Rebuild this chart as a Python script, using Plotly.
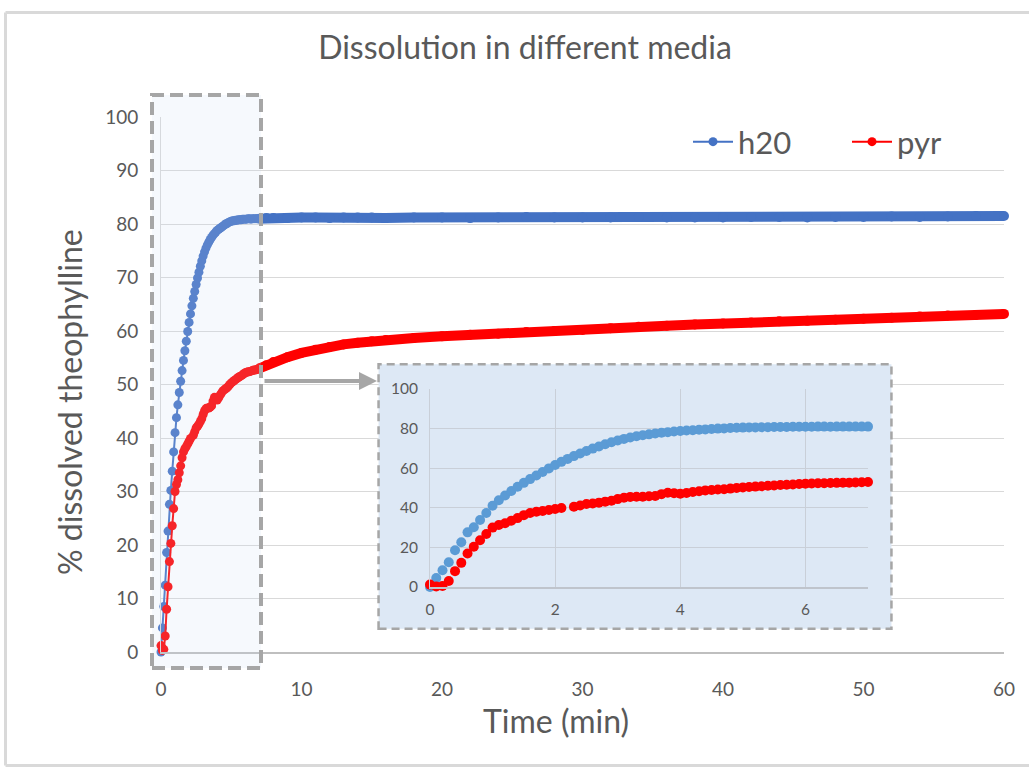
import plotly.graph_objects as go

# ---------------- data ----------------
TIME_EARLY = [0.0, 0.1, 0.2, 0.3, 0.4, 0.5, 0.6, 0.7, 0.8, 0.9,
              1.0, 1.1, 1.2, 1.3, 1.4, 1.5, 1.6, 1.7, 1.8, 1.9,
              2.0, 2.1, 2.2, 2.3, 2.4, 2.5, 2.6, 2.7, 2.8, 2.9,
              3.0, 3.1, 3.2, 3.3, 3.4, 3.5, 3.6, 3.7, 3.8, 3.9,
              4.0, 4.1, 4.2, 4.3, 4.4, 4.5, 4.6, 4.7, 4.8, 4.9,
              5.0, 5.1, 5.2, 5.3, 5.4, 5.5, 5.6, 5.7, 5.8, 5.9,
              6.0, 6.1, 6.2, 6.3, 6.4, 6.5, 6.6, 6.7, 6.8, 6.9, 7.0]

H2O_EARLY = [0.0, 4.5, 8.5, 12.5, 18.6, 22.6, 27.6, 30.2, 33.8, 37.4,
             41.0, 43.8, 46.2, 48.5, 50.6, 52.6, 54.5, 56.3, 58.1, 59.9,
             61.6, 63.2, 64.7, 66.1, 67.4, 68.7, 69.9, 71.0, 72.1, 73.1,
             74.0, 74.8, 75.5, 76.1, 76.6, 77.1, 77.5, 77.9, 78.2, 78.5,
             78.8, 79.0, 79.2, 79.4, 79.6, 79.8, 80.0, 80.1, 80.3, 80.4,
             80.5, 80.6, 80.6, 80.7, 80.7, 80.8, 80.8, 80.8, 80.9, 80.9,
             80.9, 80.9, 81.0, 81.0, 80.9, 81.0, 81.0, 81.0, 81.0, 81.0, 81.0]

PYR_EARLY = [1.2, 0.3, 0.5, 3.0, 8.0, 12.2, 16.9, 20.3, 23.6, 26.8,
             30.0, 31.3, 32.2, 33.5, 34.8, 36.3, 37.4, 38.0, 38.4, 38.9,
             39.4, 39.9, None, 40.5, 41.2, 41.9, 42.2, 42.6, 43.1, 43.6,
             44.4, 45.1, 45.5, 45.6, 45.6, 45.8, 46.0, 46.9, 47.6, 47.4,
             47.1, 47.5, 48.0, 48.4, 48.8, 49.0, 49.2, 49.4, 49.7, 50.0,
             50.3, 50.5, 50.7, 50.9, 51.1, 51.3, 51.5, 51.6, 51.8, 52.0,
             52.2, 52.3, 52.4, 52.4, 52.5, 52.6, 52.7, 52.7, 52.8, 52.9, 53.0]

TIME_LATE = [7.0, 7.5, 8, 9, 10, 11, 12, 13, 14, 15, 16,
             18, 20, 22, 24, 26, 28, 30, 32, 34, 36, 38,
             40, 42, 44, 46, 48, 50, 52, 54, 56, 58, 60]

H2O_LATE = [81.0, 81.1, 81.1, 81.1, 81.2, 81.2, 81.1, 81.2, 81.2, 81.2, 81.1,
            81.2, 81.2, 81.1, 81.2, 81.3, 81.2, 81.2, 81.2, 81.3, 81.2, 81.2,
            81.2, 81.3, 81.3, 81.2, 81.3, 81.3, 81.4, 81.3, 81.4, 81.5, 81.5]

PYR_LATE = [53.0, 53.6, 54.2, 55.1, 55.9, 56.5, 57.0, 57.5, 57.8, 58.1, 58.3,
            58.7, 59.0, 59.3, 59.5, 59.8, 60.0, 60.2, 60.5, 60.8, 61.0, 61.2,
            61.4, 61.6, 61.8, 61.9, 62.1, 62.3, 62.5, 62.7, 62.9, 63.0, 63.2]

SERIES_NAMES = ["h20", "pyr"]
MAIN_X_TICKS = [0, 10, 20, 30, 40, 50, 60]
MAIN_Y_TICKS = [0, 10, 20, 30, 40, 50, 60, 70, 80, 90, 100]
INSET_X_TICKS = [0, 2, 4, 6]
INSET_Y_TICKS = [0, 20, 40, 60, 80, 100]

# ---------------- style ----------------
W, H = 1029, 767
ML, MR, MT, MB = 161, 25, 117, 115
PW, PH = W - ML - MR, H - MT - MB
FONT = "Lato"
TXT = "#595959"
BLUE = "#4472c4"
BLUE_IN = "#5b9bd5"
RED = "#ff0000"
GRID = "#d9d9d9"


def px_x(px):
    return (px - ML) / PW


def px_y(py):
    return (H - MB - py) / PH


fig = go.Figure()

# main chart: early part (thin line + markers)
fig.add_trace(go.Scatter(x=TIME_EARLY, y=H2O_EARLY, name=SERIES_NAMES[0],
                         mode="lines+markers", connectgaps=True,
                         line=dict(color=BLUE, width=2),
                         marker=dict(color=BLUE, size=9),
                         cliponaxis=False, xaxis="x", yaxis="y"))
fig.add_trace(go.Scatter(x=TIME_EARLY, y=PYR_EARLY, name=SERIES_NAMES[1],
                         mode="lines+markers", connectgaps=True,
                         line=dict(color=RED, width=2),
                         marker=dict(color=RED, size=9),
                         cliponaxis=False, xaxis="x", yaxis="y"))
# main chart: dense tail (overlapping markers form a band)
fig.add_trace(go.Scatter(x=TIME_LATE, y=H2O_LATE, showlegend=False,
                         mode="lines+markers",
                         line=dict(color=BLUE, width=10),
                         marker=dict(color=BLUE, size=10),
                         cliponaxis=False, xaxis="x", yaxis="y"))
fig.add_trace(go.Scatter(x=TIME_LATE, y=PYR_LATE, showlegend=False,
                         mode="lines+markers",
                         line=dict(color=RED, width=10),
                         marker=dict(color=RED, size=10),
                         cliponaxis=False, xaxis="x", yaxis="y"))

# inset background holder subplot
fig.add_trace(go.Scatter(x=[None], y=[None], showlegend=False,
                         hoverinfo="skip", xaxis="x2", yaxis="y2"))

# inset chart
fig.add_trace(go.Scatter(x=TIME_EARLY, y=H2O_EARLY, showlegend=False,
                         mode="markers", marker=dict(color=BLUE_IN, size=10),
                         cliponaxis=False, xaxis="x3", yaxis="y3"))
fig.add_trace(go.Scatter(x=TIME_EARLY, y=PYR_EARLY, showlegend=False,
                         mode="markers", marker=dict(color=RED, size=10),
                         cliponaxis=False, xaxis="x3", yaxis="y3"))

fig.update_layout(
    width=W, height=H,
    margin=dict(l=ML, r=MR, t=MT, b=MB, autoexpand=False),
    paper_bgcolor="white", plot_bgcolor="rgba(0,0,0,0)",
    font=dict(family=FONT, color=TXT),
    title=dict(text="Dissolution in different media", x=525 / W, xref="container",
               xanchor="center", y=1 - 48 / H, yref="container", yanchor="middle",
               font=dict(family=FONT, size=32, color=TXT)),
    showlegend=True,
    legend=dict(orientation="h", x=px_x(688), y=px_y(142), xanchor="left",
                yanchor="middle", font=dict(family=FONT, size=31, color=TXT),
                bgcolor="rgba(0,0,0,0)", itemwidth=40,
                entrywidth=104, entrywidthmode="pixels"),
    xaxis=dict(domain=[0, 1], range=[0, 60], tickvals=MAIN_X_TICKS,
               showgrid=False, zeroline=False, showline=True, linecolor="#bfbfbf",
               linewidth=1.5, ticks="outside", ticklen=19, tickcolor="rgba(0,0,0,0)",
               tickfont=dict(size=19, color=TXT), anchor="y"),
    yaxis=dict(domain=[0, 1], range=[0, 100], tickvals=MAIN_Y_TICKS,
               showgrid=True, gridcolor=GRID, gridwidth=1, zeroline=False,
               showline=True, linecolor=GRID, linewidth=1,
               ticks="outside", ticklen=18, tickcolor="rgba(0,0,0,0)",
               tickfont=dict(size=19, color=TXT), anchor="x"),
    xaxis2=dict(domain=[px_x(377), px_x(893)], range=[0, 1], visible=False,
                anchor="y2", fixedrange=True),
    yaxis2=dict(domain=[px_y(630), px_y(363)], range=[0, 1], visible=False,
                anchor="x2", fixedrange=True),
    xaxis3=dict(domain=[px_x(430), px_x(868)], range=[0, 7], tickvals=INSET_X_TICKS,
                showgrid=True, gridcolor="#c9cfd8", zeroline=False, showline=True,
                linecolor="#bfc4cc", linewidth=1.5, ticks="outside", ticklen=8,
                tickcolor="rgba(0,0,0,0)", tickfont=dict(size=15.5, color=TXT),
                anchor="y3"),
    yaxis3=dict(domain=[px_y(587), px_y(389)], range=[0, 100], tickvals=INSET_Y_TICKS,
                showgrid=True, gridcolor="#c9cfd8", zeroline=False, showline=True,
                linecolor="#c9cfd8", linewidth=1, ticks="outside", ticklen=8,
                tickcolor="rgba(0,0,0,0)", tickfont=dict(size=15.5, color=TXT),
                anchor="x3"),
)

shapes = [
    # outer frame of the chart area (top, left, bottom)
    dict(type="line", xref="paper", yref="paper",
         x0=px_x(5.5), x1=px_x(1029), y0=px_y(12.5), y1=px_y(12.5),
         line=dict(color="#d9d9d9", width=3), layer="below"),
    dict(type="line", xref="paper", yref="paper",
         x0=px_x(5.5), x1=px_x(5.5), y0=px_y(12.5), y1=px_y(765.5),
         line=dict(color="#d9d9d9", width=3), layer="below"),
    dict(type="line", xref="paper", yref="paper",
         x0=px_x(5.5), x1=px_x(1029), y0=px_y(765.5), y1=px_y(765.5),
         line=dict(color="#d9d9d9", width=3), layer="below"),
    # inset background box (drawn in the inset holder subplot so it hides the grid below)
    dict(type="rect", xref="x2", yref="y2", x0=0.003, x1=0.997, y0=0.005, y1=0.995,
         line=dict(color="#a6a6a6", width=2.5, dash="8px,5px"),
         fillcolor="#dde8f5", layer="below"),
    # highlight box over the first minutes
    dict(type="rect", xref="paper", yref="paper",
         x0=px_x(152), x1=px_x(261), y0=px_y(668), y1=px_y(95),
         line=dict(color="#a6a6a6", width=4, dash="13px,6px"),
         fillcolor="rgba(200,220,245,0.17)", layer="above"),
]
fig.update_layout(shapes=shapes)

# axis titles
fig.add_annotation(xref="paper", yref="paper", x=px_x(556), y=px_y(720),
                   xanchor="center", yanchor="middle", showarrow=False,
                   text="Time (min)", font=dict(family=FONT, size=32, color=TXT))
fig.add_annotation(xref="paper", yref="paper", x=px_x(69), y=px_y(402),
                   xanchor="center", yanchor="middle", showarrow=False, textangle=-90,
                   text="% dissolved theophylline", font=dict(family=FONT, size=32, color=TXT))

# arrow from highlight box to inset
fig.add_annotation(xref="paper", yref="paper", axref="pixel", ayref="pixel",
                   x=px_x(377), y=px_y(381), ax=-(377 - 263), ay=0,
                   text="", showarrow=True, arrowhead=2, arrowsize=0.9,
                   arrowwidth=4, arrowcolor="#a6a6a6", standoff=0)

fig.write_html("out.html", config={"displayModeBar": False},
               post_script="document.body.style.margin='0px';")
